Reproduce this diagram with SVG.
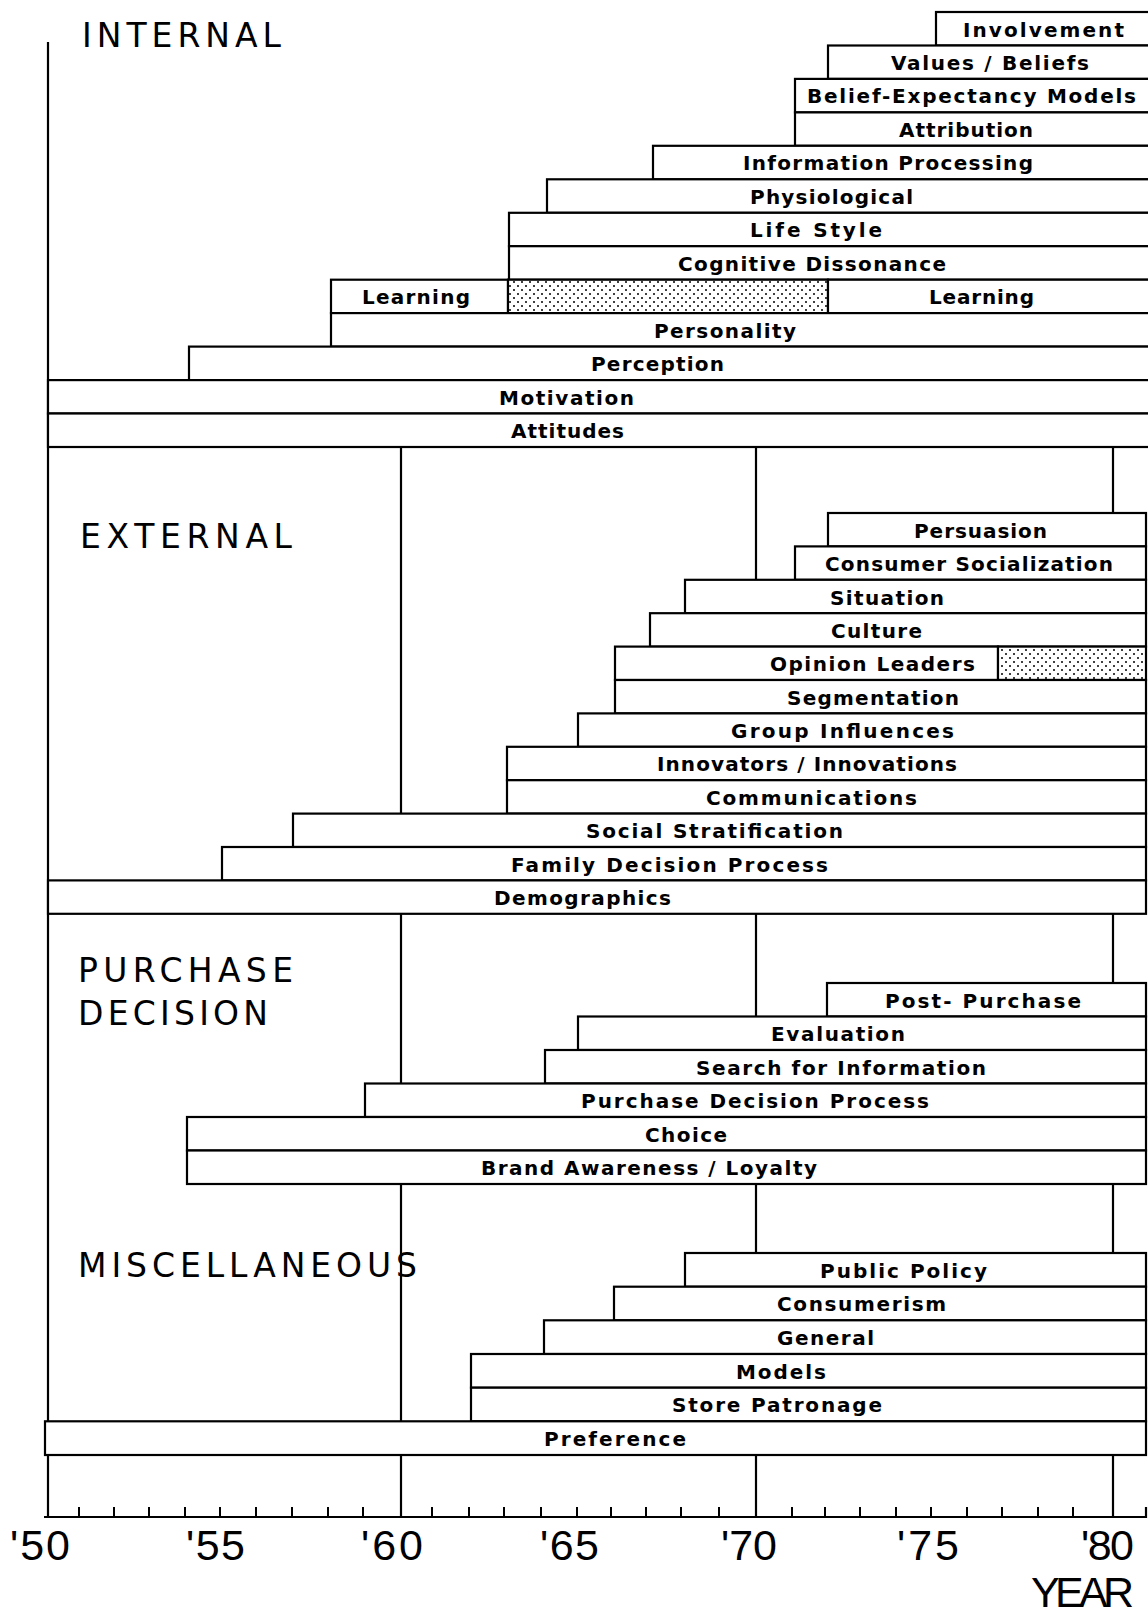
<svg xmlns="http://www.w3.org/2000/svg" width="1148" height="1613" viewBox="0 0 1148 1613">
<style>
.bar{fill:#fff;stroke:#000;stroke-width:2.2}
.stip{fill:url(#dots);stroke:#000;stroke-width:2.2}
.lbl{font-family:"DejaVu Sans","Liberation Sans",Arial,sans-serif;font-weight:bold;font-size:20px;fill:#000}
.hd{font-family:"DejaVu Sans","Liberation Sans",Arial,sans-serif;font-size:33px;fill:#000}
.yr{font-family:"Liberation Sans",Arial,sans-serif;font-size:43px;fill:#000}
.ln{stroke:#000;stroke-width:2.2;fill:none}
.tk{stroke:#000;stroke-width:2;fill:none}
</style>
<defs>
<pattern id="dots" width="8" height="8" patternUnits="userSpaceOnUse">
<rect width="8" height="8" fill="#fff"/>
<circle cx="2" cy="2" r="1" fill="#000"/>
<circle cx="6" cy="6" r="1" fill="#000"/>
</pattern>
</defs>
<rect width="1148" height="1613" fill="#fff"/>

<g id="headings">
<text class="hd" x="82" y="47" textLength="199">INTERNAL</text>
<text class="hd" x="80" y="548" textLength="212">EXTERNAL</text>
<text class="hd" x="78" y="982" textLength="215">PURCHASE</text>
<text class="hd" x="78" y="1025" textLength="190">DECISION</text>
<text class="hd" x="78" y="1277" textLength="339">MISCELLANEOUS</text>
</g>

<g id="connectors">
<line class="ln" x1="48" y1="42" x2="48" y2="1518"/>
<line class="ln" x1="44" y1="1517" x2="1146" y2="1517"/>
<line class="ln" x1="1146" y1="1507" x2="1146" y2="1518"/>
<line class="ln" x1="401" y1="447" x2="401" y2="813.6"/>
<line class="ln" x1="401" y1="913.8" x2="401" y2="1083.5"/>
<line class="ln" x1="401" y1="1184" x2="401" y2="1421.3"/>
<line class="ln" x1="401" y1="1455" x2="401" y2="1517"/>
<line class="ln" x1="756" y1="447" x2="756" y2="579.8"/>
<line class="ln" x1="756" y1="913.8" x2="756" y2="1016.5"/>
<line class="ln" x1="756" y1="1184" x2="756" y2="1253"/>
<line class="ln" x1="756" y1="1455" x2="756" y2="1517"/>
<line class="ln" x1="1113" y1="447" x2="1113" y2="513"/>
<line class="ln" x1="1113" y1="913.8" x2="1113" y2="983"/>
<line class="ln" x1="1113" y1="1184" x2="1113" y2="1253"/>
<line class="ln" x1="1113" y1="1455" x2="1113" y2="1517"/>
<path class="tk" d="M79 1507V1517M114 1507V1517M149 1507V1517M185 1507V1517M220 1507V1517M256 1507V1517M292 1507V1517M328 1507V1517M363 1507V1517M432 1507V1517M469 1507V1517M504 1507V1517M541 1507V1517M577 1507V1517M611 1507V1517M646 1507V1517M681 1507V1517M719 1507V1517M792 1507V1517M825 1507V1517M860 1507V1517M896 1507V1517M931 1507V1517M967 1507V1517M1002 1507V1517M1038 1507V1517M1073 1507V1517"/>
</g>

<g id="years">
<text class="yr" x="10" y="1560" textLength="60">'50</text>
<text class="yr" x="186" y="1560" textLength="59">'55</text>
<text class="yr" x="361" y="1560" textLength="62">'60</text>
<text class="yr" x="540" y="1560" textLength="59">'65</text>
<text class="yr" x="721" y="1560" textLength="56">'70</text>
<text class="yr" x="897" y="1560" textLength="62">'75</text>
<text class="yr" x="1081" y="1560" textLength="53">'80</text>
<text class="yr" x="1031" y="1607" font-size="40" textLength="103">YEAR</text>
</g>

<g id="involvement"><rect class="bar" x="936" y="12" width="220" height="33.5"/><text class="lbl" x="963" y="36.5" textLength="161">Involvement</text></g>
<g id="values-beliefs"><rect class="bar" x="828" y="45.5" width="330" height="33.4"/><text class="lbl" x="891" y="70" textLength="198">Values / Beliefs</text></g>
<g id="belief-expectancy"><rect class="bar" x="795" y="78.9" width="360" height="33.5"/><text class="lbl" x="807" y="103.4" textLength="329">Belief-Expectancy Models</text></g>
<g id="attribution"><rect class="bar" x="795" y="112.4" width="360" height="33.4"/><text class="lbl" x="899" y="136.9" textLength="134">Attribution</text></g>
<g id="information-processing"><rect class="bar" x="653" y="145.8" width="500" height="33.5"/><text class="lbl" x="743" y="170.3" textLength="290">Information Processing</text></g>
<g id="physiological"><rect class="bar" x="547" y="179.3" width="610" height="33.5"/><text class="lbl" x="750" y="203.8" textLength="163">Physiological</text></g>
<g id="life-style"><rect class="bar" x="509" y="212.8" width="650" height="33.4"/><text class="lbl" x="750" y="237.3" textLength="132">Life  Style</text></g>
<g id="cognitive-dissonance"><rect class="bar" x="509" y="246.2" width="650" height="33.5"/><text class="lbl" x="678" y="270.7" textLength="268">Cognitive Dissonance</text></g>
<g id="learning">
<rect class="bar" x="331" y="279.7" width="177" height="33.4"/><text class="lbl" x="362" y="304.2" textLength="108">Learning</text>
<rect class="stip" x="508" y="279.7" width="320" height="33.4"/>
<rect class="bar" x="828" y="279.7" width="330" height="33.4"/><text class="lbl" x="929" y="304.2" textLength="105">Learning</text>
</g>
<g id="personality"><rect class="bar" x="331" y="313.1" width="830" height="33.5"/><text class="lbl" x="654" y="337.6" textLength="142">Personality</text></g>
<g id="perception"><rect class="bar" x="189" y="346.6" width="970" height="33.5"/><text class="lbl" x="591" y="371.1" textLength="133">Perception</text></g>
<g id="motivation"><rect class="bar" x="48" y="380.1" width="1110" height="33.4"/><text class="lbl" x="499" y="404.6" textLength="135">Motivation</text></g>
<g id="attitudes"><rect class="bar" x="48" y="413.5" width="1110" height="33.5"/><text class="lbl" x="511" y="438" textLength="113">Attitudes</text></g>

<g id="persuasion"><rect class="bar" x="828" y="513" width="318" height="33.4"/><text class="lbl" x="914" y="538" textLength="133">Persuasion</text></g>
<g id="consumer-socialization"><rect class="bar" x="795" y="546.4" width="351" height="33.4"/><text class="lbl" x="825" y="571.4" textLength="288">Consumer Socialization</text></g>
<g id="situation"><rect class="bar" x="685" y="579.8" width="461" height="33.4"/><text class="lbl" x="830" y="604.8" textLength="114">Situation</text></g>
<g id="culture"><rect class="bar" x="650" y="613.2" width="496" height="33.4"/><text class="lbl" x="831" y="637.7" textLength="91">Culture</text></g>
<g id="opinion-leaders"><rect class="bar" x="615" y="646.6" width="383" height="33.4"/><rect class="stip" x="998" y="646.6" width="148" height="33.4"/><text class="lbl" x="770" y="671.1" textLength="205">Opinion Leaders</text></g>
<g id="segmentation"><rect class="bar" x="615" y="680" width="531" height="33.4"/><text class="lbl" x="787" y="704.5" textLength="172">Segmentation</text></g>
<g id="group-influences"><rect class="bar" x="578" y="713.4" width="568" height="33.4"/><text class="lbl" x="731" y="738.4" textLength="223">Group Influences</text></g>
<g id="innovators"><rect class="bar" x="507" y="746.8" width="639" height="33.4"/><text class="lbl" x="657" y="771.3" textLength="300">Innovators / Innovations</text></g>
<g id="communications"><rect class="bar" x="507" y="780.2" width="639" height="33.4"/><text class="lbl" x="706" y="804.7" textLength="211">Communications</text></g>
<g id="social-stratification"><rect class="bar" x="293" y="813.6" width="853" height="33.4"/><text class="lbl" x="586" y="838.1" textLength="257">Social Stratification</text></g>
<g id="family-decision"><rect class="bar" x="222" y="847" width="924" height="33.4"/><text class="lbl" x="511" y="871.5" textLength="317">Family  Decision  Process</text></g>
<g id="demographics"><rect class="bar" x="48" y="880.4" width="1098" height="33.4"/><text class="lbl" x="494" y="904.9" textLength="177">Demographics</text></g>

<g id="post-purchase"><rect class="bar" x="827" y="983" width="319" height="33.5"/><text class="lbl" x="885" y="1007.5" textLength="196">Post- Purchase</text></g>
<g id="evaluation"><rect class="bar" x="578" y="1016.5" width="568" height="33.5"/><text class="lbl" x="771" y="1041" textLength="134">Evaluation</text></g>
<g id="search-information"><rect class="bar" x="545" y="1050" width="601" height="33.5"/><text class="lbl" x="696" y="1074.5" textLength="290">Search for Information</text></g>
<g id="purchase-decision-process"><rect class="bar" x="365" y="1083.5" width="781" height="33.5"/><text class="lbl" x="581" y="1108" textLength="348">Purchase Decision Process</text></g>
<g id="choice"><rect class="bar" x="187" y="1117" width="959" height="33.5"/><text class="lbl" x="645" y="1141.5" textLength="82">Choice</text></g>
<g id="brand-awareness"><rect class="bar" x="187" y="1150.5" width="959" height="33.5"/><text class="lbl" x="481" y="1175" textLength="336">Brand Awareness / Loyalty</text></g>

<g id="public-policy"><rect class="bar" x="685" y="1253" width="461" height="33.7"/><text class="lbl" x="820" y="1277.7" textLength="167">Public  Policy</text></g>
<g id="consumerism"><rect class="bar" x="614" y="1286.7" width="532" height="33.6"/><text class="lbl" x="777" y="1311.2" textLength="169">Consumerism</text></g>
<g id="general"><rect class="bar" x="544" y="1320.3" width="602" height="33.7"/><text class="lbl" x="777" y="1344.8" textLength="97">General</text></g>
<g id="models"><rect class="bar" x="471" y="1354" width="675" height="33.7"/><text class="lbl" x="736" y="1378.5" textLength="90">Models</text></g>
<g id="store-patronage"><rect class="bar" x="471" y="1387.7" width="675" height="33.6"/><text class="lbl" x="672" y="1412.2" textLength="210">Store Patronage</text></g>
<g id="preference"><rect class="bar" x="45" y="1421.3" width="1101" height="33.7"/><text class="lbl" x="544" y="1445.8" textLength="142">Preference</text></g>
</svg>
